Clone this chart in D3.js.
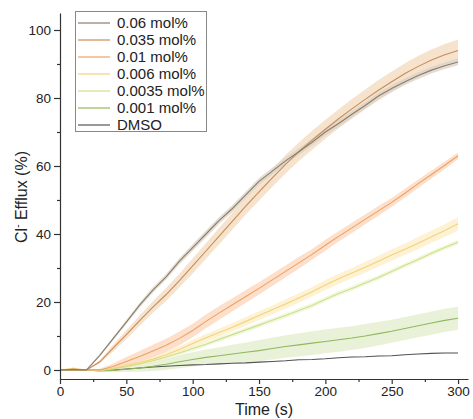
<!DOCTYPE html>
<html>
<head>
<meta charset="utf-8">
<script src="https://cdn.jsdelivr.net/npm/d3@7"></script>
<style>
  body { margin: 0; background: #fff; }
  svg { font-family: "Liberation Sans", Arial, sans-serif; }
</style>
</head>
<body>
<script>
// Data (time in s, efflux in %).
const time = [0,10,20,30,40,50,60,70,80,90,100,110,120,130,140,150,160,170,180,190,200,210,220,230,240,250,260,270,280,290,300];

const v006m = [0,0.2,0,4.3,9.2,14.1,19.1,23.5,27.4,32,36,40,44,47.5,51.5,55.5,58.5,61.5,64.2,67,70,72.5,75.2,77.8,80.6,82.8,84.8,86.6,88.2,89.5,90.6];
const v0035m = [0,0.1,0,2.4,6.4,10.4,14.5,18.5,22.2,26.3,30.6,35,39.4,43.8,48.2,52.4,56.5,60.5,64.2,67.6,70.8,73.9,76.8,79.6,82.3,84.8,87.2,89.3,91.2,92.7,94];
const v001m = [0,0.2,0,0,1,2.5,4,5.6,7.3,9.3,11.6,14.3,16.8,19.2,21.6,24,26.5,29,31.5,34,36.7,39.3,41.8,44.3,46.8,49.3,52,54.8,57.5,60.2,63];
const v0006m = [0,0.5,0,0,0.5,1.3,2.2,3.2,4.5,6,7.8,9.5,11,12.6,14.3,16,17.7,19.4,21.2,23,25,26.8,28.5,30.2,32,33.8,35.5,37.3,39.2,41,43];
const v00035m = [0,0.2,0,-0.2,0.3,1,1.8,2.7,3.8,5,6.3,7.6,9,10.4,11.8,13.2,14.6,16,17.5,19,20.8,22.5,24,25.6,27.2,29,30.8,32.5,34.3,36,37.6];
const v0001m = [0,0.1,0,-0.3,-0.1,0.2,0.6,1.1,1.7,2.4,3.1,3.7,4.2,4.7,5.2,5.7,6.3,6.9,7.4,7.9,8.4,8.9,9.4,10,10.7,11.4,12.2,13,13.8,14.6,15.2];
const vDMSO = [0,0,0,0,0,0.3,0.6,0.9,1.1,1.3,1.5,1.6,1.8,2,2.1,2.3,2.5,2.7,3,3.1,3.3,3.6,3.8,3.9,4.1,4.2,4.5,4.7,4.9,5,5];

// Error band half-widths.
const e006m = [0,0,0,0.3,0.5,0.6,0.7,0.8,0.8,0.9,1,1,1,1,1,1,1,1,1,1,1,1,1,1,1,1,1,1,1,1,1];
const e0035m = [0,0,0,0.5,1,1.3,1.5,1.7,1.9,2,2.2,2.3,2.4,2.5,2.5,2.6,2.6,2.7,2.7,2.8,2.8,2.8,2.9,2.9,3,3,3,3.1,3.1,3.2,3.2];
const e001m = [0,0,0,0.4,0.9,1.3,1.6,1.8,1.9,2,2,2,2,1.9,1.9,1.8,1.8,1.7,1.7,1.6,1.6,1.5,1.5,1.4,1.4,1.3,1.3,1.2,1.2,1.1,1];
const e0006m = [0,0.3,0,0.3,0.5,0.7,0.8,0.9,1,1,1.1,1.1,1.2,1.2,1.3,1.3,1.3,1.4,1.4,1.4,1.5,1.5,1.5,1.6,1.6,1.7,1.7,1.8,1.8,1.9,2];
const e00035m = [0,0,0,0.3,0.4,0.5,0.5,0.6,0.6,0.6,0.7,0.7,0.7,0.7,0.7,0.7,0.7,0.7,0.7,0.7,0.7,0.7,0.7,0.7,0.7,0.7,0.7,0.7,0.7,0.7,0.7];
const e0001m = [0,0,0,0.3,0.5,0.8,1.1,1.4,1.7,1.9,2.1,2.3,2.5,2.7,2.9,3.1,3.2,3.3,3.4,3.5,3.5,3.5,3.5,3.5,3.5,3.4,3.4,3.4,3.4,3.4,3.4];
const eDMSO = [0,0,0,0,0,0.1,0.1,0.1,0.1,0.1,0.1,0.1,0.1,0.1,0.1,0.1,0.1,0.1,0.1,0.1,0.1,0.1,0.1,0.1,0.1,0.1,0.1,0.1,0.1,0.1,0.1];

const labels = ['0.06 mol%', '0.035 mol%', '0.01 mol%', '0.006 mol%', '0.0035 mol%', '0.001 mol%', 'DMSO'];
const lineColors = ['#8a7d6a', '#c98c55', '#f0a062', '#f4d27e', '#cbe08a', '#8fb95c', '#555555'];
const bandColors = ['#d9d2c6', '#f3d9bd', '#fbd6b9', '#fcedc4', '#eef5d2', '#e2eecb', '#dddddd'];
const xTicks = [0, 50, 100, 150, 200, 250, 300];
const yTicks = [0, 20, 40, 60, 80, 100];

const values = [v006m, v0035m, v001m, v0006m, v00035m, v0001m, vDMSO];
const errors = [e006m, e0035m, e001m, e0006m, e00035m, e0001m, eDMSO];

// Svg.
const width = 473, height = 419;
const svg = d3.select('body')
                .append('svg')
                .attr('width', width)
                .attr('height', height);

// Scales.
const x = d3.scaleLinear().domain([0, 307.5]).range([60, 468]);
const y = d3.scaleLinear().domain([-2.65, 105]).range([379, 13]);

// Bands first, then lines (reverse order so the top series sits on top).
const order = d3.range(values.length).reverse();

order.forEach(i => {
    const area = d3.area()
        .x((_, j) => x(time[j]))
        .y0((d, j) => y(d - errors[i][j]))
        .y1((d, j) => y(d + errors[i][j]));
    svg.append('path')
        .attr('d', area(values[i]))
        .attr('fill', bandColors[i])
        .attr('fill-opacity', 0.75);
});

order.forEach(i => {
    const line = d3.line()
        .x((_, j) => x(time[j]))
        .y(d => y(d));
    svg.append('path')
        .attr('d', line(values[i]))
        .attr('fill', 'none')
        .attr('stroke', lineColors[i])
        .attr('stroke-width', 1.1);
});

// Axes.
svg.append('g')
    .attr('transform', `translate(0,${y(-2.65)})`)
    .call(d3.axisBottom(x).tickValues(xTicks).tickSize(5).tickSizeOuter(0).tickPadding(2));
const xMinor = svg.append('g')
    .attr('transform', `translate(0,${y(-2.65)})`)
    .call(d3.axisBottom(x).tickValues([25, 75, 125, 175, 225, 275]).tickSize(3).tickFormat(''));
xMinor.select('.domain').remove();

svg.append('g')
    .attr('transform', `translate(${x(0)},0)`)
    .call(d3.axisLeft(y).tickValues(yTicks).tickSize(6).tickSizeOuter(0).tickPadding(3));
const yMinor = svg.append('g')
    .attr('transform', `translate(${x(0)},0)`)
    .call(d3.axisLeft(y).tickValues([10, 30, 50, 70, 90]).tickSize(3).tickFormat(''));
yMinor.select('.domain').remove();

svg.selectAll('.domain, .tick line')
    .attr('stroke', '#333')
    .attr('stroke-width', 1.2);
svg.selectAll('.tick text')
    .attr('font-size', '13.5px')
    .attr('font-family', '"Liberation Sans", Arial, sans-serif')
    .attr('fill', '#222');

// Axis titles.
svg.append('text')
    .attr('x', 264)
    .attr('y', 415)
    .attr('text-anchor', 'middle')
    .attr('font-size', '16px')
    .attr('fill', '#222')
    .text('Time (s)');

const yTitle = svg.append('text')
    .attr('transform', 'translate(27,197) rotate(-90)')
    .attr('text-anchor', 'middle')
    .attr('font-size', '16px')
    .attr('fill', '#222');
yTitle.append('tspan').text('Cl');
yTitle.append('tspan').attr('font-size', '10px').attr('dy', -6).text('-');
yTitle.append('tspan').attr('dy', 6).text(' Efflux (%)');

// Legend.
const legend = svg.append('g');
legend.append('rect')
    .attr('x', 75.5)
    .attr('y', 11.5)
    .attr('width', 131)
    .attr('height', 120)
    .attr('fill', '#fff')
    .attr('stroke', '#888')
    .attr('stroke-width', 1);

labels.forEach((lab, i) => {
    const ly = 23 + i * 17;
    legend.append('line')
        .attr('x1', 78).attr('x2', 110)
        .attr('y1', ly).attr('y2', ly)
        .attr('stroke', lineColors[i])
        .attr('stroke-width', 1.2);
    legend.append('text')
        .attr('x', 117)
        .attr('y', ly + 5)
        .attr('font-size', '15px')
        .attr('fill', '#222')
        .text(lab);
});
</script>
</body>
</html>
